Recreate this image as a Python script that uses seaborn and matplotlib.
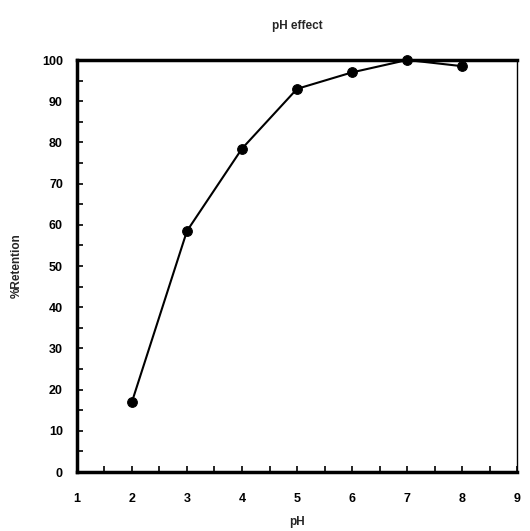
import matplotlib
matplotlib.use("Agg")
import matplotlib.pyplot as plt
import seaborn as sns
import pandas as pd
from matplotlib.ticker import MultipleLocator

# data
ph = [2, 3, 4, 5, 6, 7, 8]
retention = [17, 58.5, 78.5, 93, 97, 100, 98.5]

sns.set_theme(style="white")
plt.rcParams['font.family'] = ['Liberation Sans', 'DejaVu Sans']
plt.rcParams['font.weight'] = 'bold'

df = pd.DataFrame({'pH': ph, 'retention': retention})

fig = plt.figure(figsize=(5.3, 5.31), dpi=100)
ax = fig.add_axes([0.145, 0.111, 0.831, 0.776])

sns.lineplot(data=df, x='pH', y='retention', ax=ax, color='black',
             linewidth=1.5, marker='o', markersize=7, markeredgecolor='black',
             clip_on=False, zorder=5)

ax.set_xlim(1, 9)
ax.set_ylim(0, 100)
ax.xaxis.set_major_locator(MultipleLocator(1))
ax.xaxis.set_minor_locator(MultipleLocator(0.5))
ax.yaxis.set_major_locator(MultipleLocator(10))
ax.yaxis.set_minor_locator(MultipleLocator(5))
ax.tick_params(which='both', bottom=True, left=True, top=False, right=False,
               direction='in', color='black', width=1.2, length=4,
               labelsize=9, labelcolor='black')
ax.tick_params(axis='x', which='major', pad=15)
ax.tick_params(axis='y', which='major', pad=10)

for side in ['left', 'bottom', 'top']:
    ax.spines[side].set_linewidth(2.5)
    ax.spines[side].set_color('black')
ax.spines['right'].set_linewidth(1)
ax.spines['right'].set_color('black')

ax.set_title('pH effect', fontsize=8.5, fontweight='bold', pad=22)
ax.set_xlabel('pH', fontsize=8.5, fontweight='bold', labelpad=8)
ax.set_ylabel('%Retention', fontsize=8.5, fontweight='bold', labelpad=14)

fig.savefig('out.png', dpi=100)
